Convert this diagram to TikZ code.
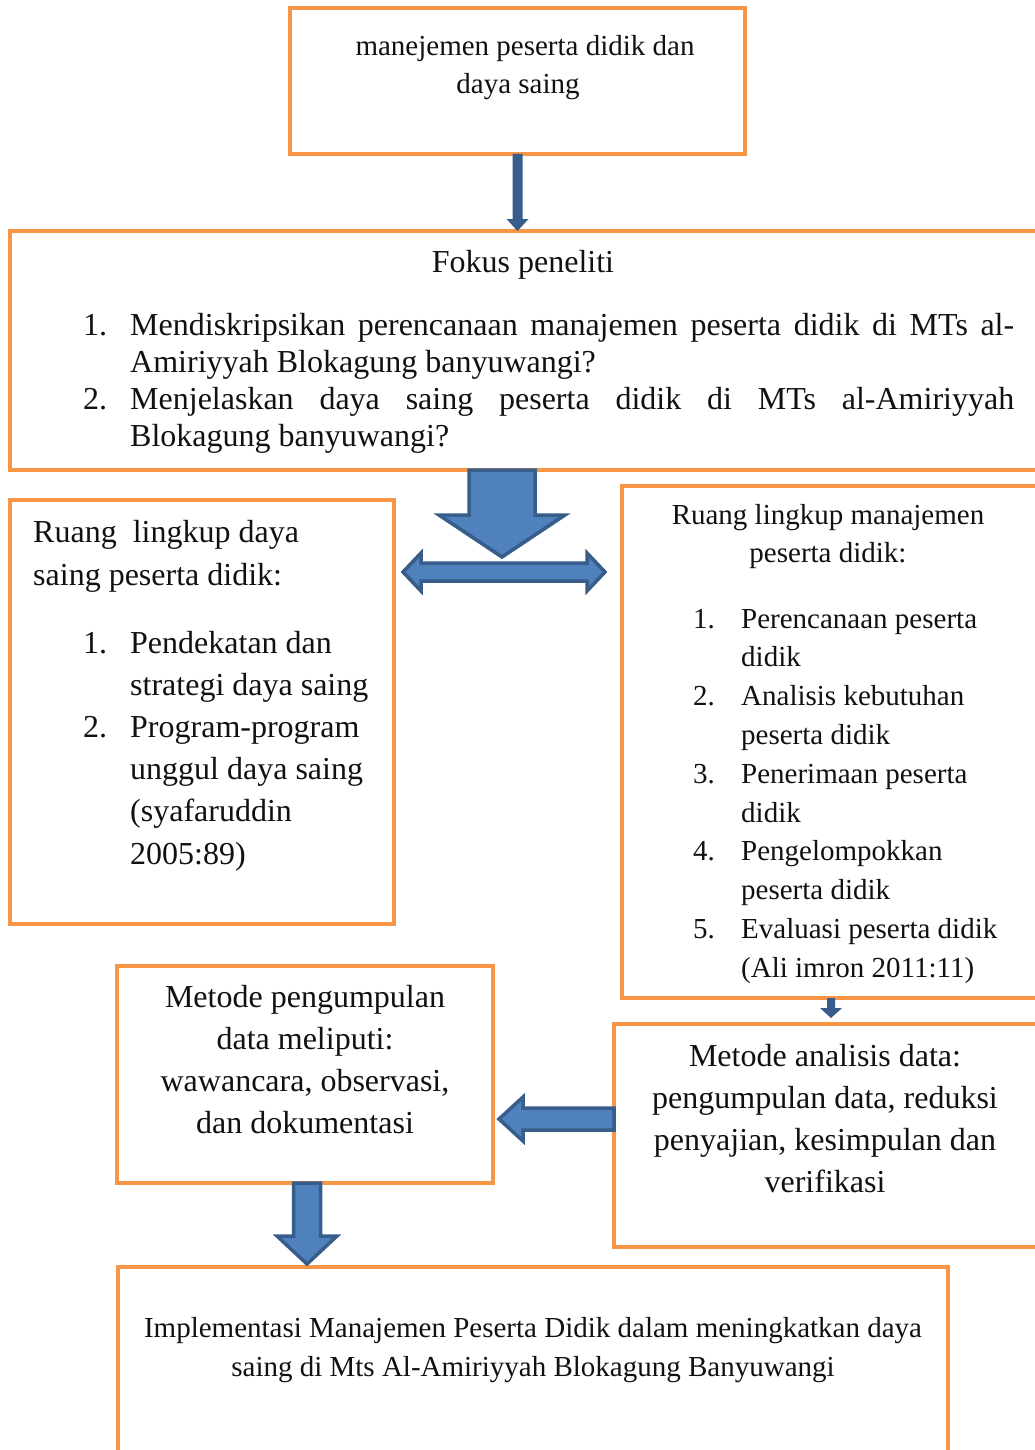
\documentclass[tikz,border=0pt]{standalone}
\usepackage{fontspec}
\setmainfont{Liberation Serif}
\usetikzlibrary{calc,positioning}
\definecolor{bagOrange}{HTML}{F79646}
\definecolor{bagBlue}{HTML}{4F81BD}
\definecolor{bagBlueLine}{HTML}{385D8A}
\definecolor{bagInk}{HTML}{111111}
\newcommand\fsmall{\fontsize{29}{35}\selectfont}
\newcommand\fbig{\fontsize{32}{38}\selectfont}
% block arrows: style, from, tip, shaft half, head half, head length
\newcommand\blkdown[6]{\draw[#1] ($(#2)+(-#4,0)$) -- ($(#3)+(-#4,-#6)$) -- ($(#3)+(-#5,-#6)$) -- (#3) -- ($(#3)+(#5,-#6)$) -- ($(#3)+(#4,-#6)$) -- ($(#2)+(#4,0)$) -- cycle;}
\newcommand\blkleft[6]{\draw[#1] ($(#2)+(0,-#4)$) -- ($(#3)+(#6,-#4)$) -- ($(#3)+(#6,-#5)$) -- (#3) -- ($(#3)+(#6,#5)$) -- ($(#3)+(#6,#4)$) -- ($(#2)+(0,#4)$) -- cycle;}

\begin{document}
\begin{tikzpicture}[x=1pt,y=-1pt,line join=miter]
\useasboundingbox[fill=white] (0,0) rectangle (1034,1450);
\tikzset{box/.style={draw=bagOrange,line width=4pt,inner sep=0pt,outer sep=0pt,anchor=north west},blk/.style={draw=bagBlueLine,fill=bagBlue,line width=3.5pt},thinblk/.style={fill=bagBlueLine,draw=none},txt/.style={text=bagInk,inner sep=0pt,anchor=base west},ctxt/.style={text=bagInk,inner sep=0pt,anchor=base}}
% boxes
\node[box,minimum width=455pt,minimum height=146pt] (topbox) at (290,8) {};
\node[box,minimum width=1030pt,minimum height=239pt] (fokus) at (10,231) {};
\node[box,minimum width=384pt,minimum height=424pt] (leftbox) at (10,500) {};
\node[box,minimum width=418pt,minimum height=512pt] (rightbox) at (622,486) {};
\node[box,minimum width=376pt,minimum height=217pt] (metode) at (117,966) {};
\node[box,minimum width=426pt,minimum height=223pt] (analisis) at (614,1024) {};
\node[box,minimum width=830pt,minimum height=200pt] (hasil) at (118,1267) {};
% texts
\node[ctxt,font=\fsmall] (top1) at (525,56) {manejemen peserta didik dan};
\node[ctxt,font=\fsmall] (top2) at (518,94) {daya saing};
\node[ctxt,font=\fbig] (fkhead) at (523,272) {Fokus peneliti};
\foreach \n/\y in {1/335,2/409} \node[txt,font=\fbig] (fknum\n) at (83,\y) {\n.};
\foreach \t [count=\i from 0] in {{\makebox[884pt][s]{Mendiskripsikan perencanaan manajemen peserta didik di MTs al-}},Amiriyyah Blokagung banyuwangi?,{\makebox[884pt][s]{Menjelaskan daya saing peserta didik di MTs al-Amiriyyah}},Blokagung banyuwangi?}
  \node[txt,font=\fbig] (fk\i) at (130,335+37*\i) {\t};
\node[txt,font=\fbig] (lhead1) at (33,542) {Ruang~ lingkup daya};
\node[txt,font=\fbig] (lhead2) at (33,585) {saing peserta didik:};
\foreach \n/\y in {1/653,2/737} \node[txt,font=\fbig] (lnum\n) at (83,\y) {\n.};
\foreach \t [count=\i from 0] in {Pendekatan dan,strategi daya saing,Program-program,unggul daya saing,{(syafaruddin},2005:89)}
  \node[txt,font=\fbig] (ll\i) at (130,653+42.2*\i) {\t};
\node[ctxt,font=\fsmall] (rhead1) at (828,524) {Ruang lingkup manajemen};
\node[ctxt,font=\fsmall] (rhead2) at (828,562) {peserta didik:};
\foreach \n [count=\i from 0] in {1,...,5} \node[txt,font=\fsmall] (rnum\n) at (693,628+77.6*\i) {\n.};
\foreach \t [count=\i from 0] in {Perencanaan peserta,didik,Analisis kebutuhan,peserta didik,Penerimaan peserta,didik,Pengelompokkan,peserta didik,Evaluasi peserta didik,{(Ali imron 2011:11)}}
  \node[txt,font=\fsmall] (rl\i) at (741,628+38.8*\i) {\t};
\foreach \t [count=\i from 0] in {Metode pengumpulan,data meliputi:,{wawancara, observasi,},dan dokumentasi}
  \node[ctxt,font=\fbig] (mp\i) at (305,1007+42*\i) {\t};
\foreach \t [count=\i from 0] in {Metode analisis data:,{pengumpulan data, reduksi},{penyajian, kesimpulan dan},verifikasi}
  \node[ctxt,font=\fbig] (an\i) at (825,1066+42.3*\i) {\t};
\node[ctxt,font=\fsmall] (hasil1) at (533,1337) {Implementasi Manajemen Peserta Didik dalam meningkatkan daya};
\node[ctxt,font=\fsmall] (hasil2) at (533,1376) {saing di Mts Al-Amiriyyah Blokagung Banyuwangi};
% arrows
\coordinate (a1tip) at (topbox.south |- fokus.north);
\blkdown{thinblk}{topbox.south}{a1tip}{5}{11}{12}
\coordinate (split) at (502,557);
\coordinate (a2top) at (split |- fokus.south);
\blkdown{blk}{a2top}{split}{33}{63}{42}
\coordinate (hubL) at (403,572); \coordinate (hubR) at (605,572);
\draw[blk] (hubL) -- ++(18,-19) -- ++(0,10) -- ($(hubR)+(-18,-9)$) -- ++(0,-10) -- (hubR) -- ++(-18,19) -- ++(0,-10) -- ($(hubL)+(18,9)$) -- ++(0,10) -- cycle;
\coordinate (a4tip) at ($(rightbox.south)+(0,20)$);
\blkdown{thinblk}{rightbox.south}{a4tip}{4}{11}{10}
\coordinate (a5start) at (analisis.west |- 0,1119);
\coordinate (a5tip) at ($(metode.east |- 0,1119)+(6,0)$);
\blkleft{blk}{a5start}{a5tip}{11}{22}{24}
\coordinate (a6top) at ($(metode.south)+(2,0)$);
\coordinate (a6tip) at ($(a6top |- hasil.north)+(0,-3)$);
\blkdown{blk}{a6top}{a6tip}{13.5}{30}{28}
\end{tikzpicture}
\end{document}
